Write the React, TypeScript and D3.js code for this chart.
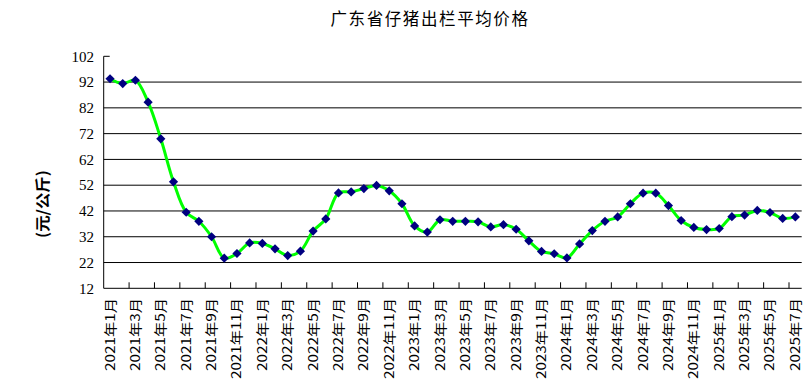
import React from 'react';
import * as d3 from 'd3';

// monthly categories 2021-01 .. 2025-07
const years = [2021, 2022, 2023, 2024, 2025];
const months = years.flatMap(y => d3.range(1, 13).map(m => `${y}年${m}月`)).slice(0, 55);

// 元/公斤
const prices = [
  93.3, 91.4, 92.7, 84.2, 70.0, 53.3, 41.5, 38.0, 32.0, 23.7, 25.5, 29.6,
  29.4, 27.3, 24.7, 26.4, 34.2, 38.9, 49.0, 49.4, 50.7, 51.9, 49.8, 44.8,
  36.2, 33.8, 38.6, 38.0, 38.0, 37.8, 35.8, 36.7, 34.9, 30.4, 26.3, 25.4,
  23.8, 29.2, 34.4, 38.0, 39.7, 44.8, 48.9, 48.9, 44.1, 38.3, 35.6, 34.8,
  35.2, 39.8, 40.4, 42.2, 41.4, 39.1, 39.7,
];

const yTicks = [12, 22, 32, 42, 52, 62, 72, 82, 92, 102];

const W = 810, H = 385;
const left = 103.7, right = 801.7, top = 56.3, bottom = 288.3;

export default function App() {
  const x = d3.scaleBand<string>().domain(months).range([left, right]).paddingInner(0).paddingOuter(0);
  const y = d3.scaleLinear().domain([12, 102]).range([bottom, top]);
  const cx = (i: number) => (x(months[i]) as number) + x.bandwidth() / 2;

  const line = d3.line<number>()
    .x((_, i) => cx(i))
    .y(d => y(d))
    .curve(d3.curveCatmullRom.alpha(0.5));

  const tickIdx = d3.range(2, months.length, 2);
  const labelIdx = d3.range(0, months.length, 2);
  // square diamond marker
  const r = 4.6;
  const diamond = `M0,${-r}L${r},0L0,${r}L${-r},0Z`;

  return (
    <svg width={W} height={H} style={{ position: 'absolute', left: 0, top: 0 }}>
      <rect width={W} height={H} fill="#fff" />
      <text x={430} y={25} textAnchor="middle" fontSize={16.5} letterSpacing={1.6}
        fontFamily="'Noto Sans CJK SC', sans-serif" fill="#000">广东省仔猪出栏平均价格</text>

      {yTicks.filter(t => t !== 12 && t !== 102).map(t => (
        <line key={t} x1={left} x2={right} y1={y(t)} y2={y(t)} stroke="#000" strokeWidth={1} />
      ))}
      <line x1={left} x2={left + 6} y1={top} y2={top} stroke="#000" />
      <line x1={left} x2={left} y1={top} y2={bottom} stroke="#000" />
      <line x1={left} x2={right} y1={bottom} y2={bottom} stroke="#000" />
      {tickIdx.map(i => {
        const xx = (x(months[i]) as number);
        return <line key={i} x1={xx} x2={xx} y1={bottom} y2={bottom - 6} stroke="#000" />;
      })}

      {yTicks.map(t => (
        <text key={t} x={94} y={y(t)} dy="0.35em" textAnchor="end" fontSize={15}
          fontFamily="'Liberation Serif', serif" fill="#000">{t}</text>
      ))}

      <text transform="translate(41,204) rotate(-90)" textAnchor="middle" dominantBaseline="central"
        fontSize={15} fontWeight="bold" fontFamily="'Noto Sans CJK SC', sans-serif" fill="#000"
        textLength={68} lengthAdjust="spacingAndGlyphs">(元/公斤)</text>

      {labelIdx.map(i => {
        const s = months[i];
        const nd = s.replace(/[年月]/g, '').length;
        return (
          <text key={i} transform={`translate(${cx(i) - 1},298) rotate(-90)`} textAnchor="end"
            dominantBaseline="central" fontSize={13} fontFamily="'Noto Sans CJK SC', sans-serif"
            textLength={nd * 8 + 33} lengthAdjust="spacingAndGlyphs" fill="#000">{s}</text>
        );
      })}

      <path d={line(prices) || ''} fill="none" stroke="#00ff00" strokeWidth={3} />
      {prices.map((p, i) => (
        <path key={i} d={diamond} transform={`translate(${cx(i)},${y(p)})`} fill="#000080" />
      ))}
    </svg>
  );
}
